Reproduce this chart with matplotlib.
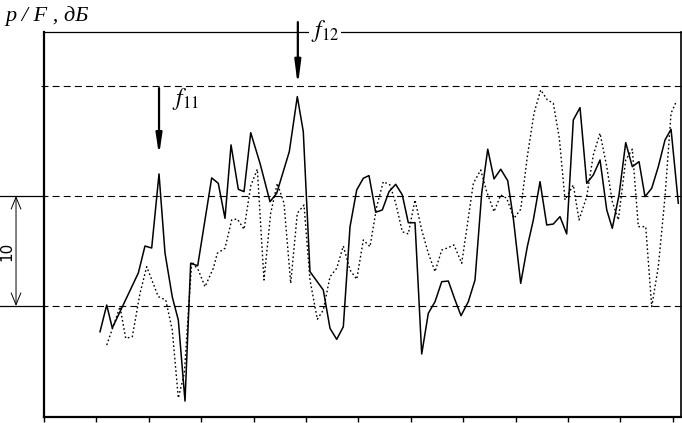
import matplotlib
matplotlib.use('Agg')
import matplotlib.pyplot as plt
import numpy as np

plt.rcParams['mathtext.fontset'] = 'stix'
plt.rcParams['lines.scale_dashes'] = False

# x in tick units (10 per tick), y in dB
solid_x = [10.69, 11.97, 13.03, 18.0, 19.27, 20.55, 21.95, 23.09, 24.48, 25.63,
           26.91, 27.99, 29.33, 32.0, 33.26, 34.54, 35.69, 37.08, 38.17, 39.45,
           41.22, 43.13, 44.41, 46.81, 48.34, 49.48, 50.76, 53.30, 54.58, 55.86,
           57.12, 58.40, 59.68, 60.94, 62.02, 63.30, 64.56, 65.84, 67.12, 68.38,
           69.52, 70.80, 72.08, 73.34, 74.62, 75.90, 77.16, 78.44, 79.58, 80.97,
           82.25, 83.53, 84.68, 85.88, 87.16, 88.49, 89.56, 90.97, 92.23, 93.38,
           94.66, 95.94, 97.19, 98.47, 99.75, 101.01, 102.29, 103.57, 104.83, 106.11,
           107.39, 108.45, 109.73, 111.01, 112.27, 113.55, 114.69, 115.97, 117.23, 118.51,
           119.66, 121.05]
solid_y = [-2.34, 0.09, -2.0, 3.0, 5.45, 5.27, 12.0, 4.82, 0.82, -1.27,
           -8.64, 3.88, 3.66, 11.64, 11.15, 7.97, 14.64, 10.61, 10.39, 15.75,
           12.97, 9.48, 10.25, 14.03, 19.03, 15.85, 3.12, 1.45, -2.03, -3.03,
           -1.88, 7.21, 10.55, 11.61, 11.85, 8.52, 8.73, 10.39, 11.06, 10.09,
           7.57, 7.57, -4.36, -0.66, 0.39, 2.21, 2.27, 0.55, -0.88, 0.39,
           2.36, 10.25, 14.25, 11.55, 12.43, 11.39, 7.97, 2.06, 5.39, 7.82,
           11.3, 7.36, 7.45, 8.12, 6.55, 16.91, 18.03, 11.15, 11.91, 13.27,
           8.73, 7.06, 10.09, 14.85, 12.66, 13.12, 9.94, 10.7, 12.66, 15.09,
           16.06, 9.34]

dotted_x = [11.97, 14.5, 15.59, 16.85, 18.32, 19.6, 21.81, 23.23, 24.48, 25.63,
            26.78, 28.19, 29.45, 30.73, 32.31, 33.07, 34.54, 35.82, 36.89, 38.17,
            39.45, 40.71, 41.98, 43.26, 44.52, 45.8, 47.08, 48.34, 49.62, 50.76,
            52.16, 53.3, 54.58, 55.86, 57.12, 58.4, 59.68, 60.94, 62.21, 63.49,
            64.75, 66.03, 67.12, 68.38, 69.52, 70.8, 72.08, 73.34, 74.62, 75.9,
            76.85, 78.24, 79.71, 80.78, 81.93, 83.34, 84.48, 85.88, 87.16, 88.30,
            89.69, 90.97, 92.23, 93.51, 94.79, 96.05, 97.19, 98.34, 99.43, 101.01,
            102.1, 103.57, 104.83, 106.11, 107.39, 108.45, 109.6, 111.01, 112.27, 113.42,
            114.83, 115.97, 117.23, 118.51, 119.66, 120.74]
dotted_y = [-3.55, -0.06, -2.94, -2.79, 1.15, 3.57, 0.85, 0.55, -2.18, -8.36,
            -6.12, 4.03, 3.27, 1.75, 3.43, 4.79, 5.25, 7.82, 7.91, 6.97,
            10.91, 12.43, 2.36, 8.43, 11.15, 9.34, 2.06, 8.43, 9.18, 2.36,
            -1.21, -0.36, 2.66, 3.43, 5.45, 3.27, 2.43, 6.0, 5.39, 9.03,
            11.3, 11.0, 9.34, 6.75, 6.55, 9.64, 6.91, 4.79, 3.12, 5.09,
            5.25, 5.55, 3.88, 7.36, 11.15, 12.36, 10.39, 8.57, 10.09, 9.79,
            7.97, 8.79, 13.57, 17.52, 19.64, 18.73, 18.43, 15.25, 9.64, 11.0,
            7.82, 9.94, 13.73, 15.7, 12.66, 9.48, 7.82, 13.27, 14.25, 7.21,
            7.21, -0.06, 3.57, 9.94, 17.52, 18.66]

grid_levels = [0, 10, 20]
xticks = np.arange(0, 121, 10)

fig = plt.figure(figsize=(6.82, 4.23), dpi=100)
ax = fig.add_axes([44/682, 1 - 416.7/423, 637/682, 384.7/423])
ax.set_xlim(0, 121.56)
ax.set_ylim(-10.06, 24.9)

for lev in grid_levels:
  ax.plot([-0.6, 121.56], [lev, lev], color='k', lw=0.8, dashes=(5, 3), clip_on=False, zorder=1)

ax.plot(solid_x, solid_y, color='k', lw=1.1, zorder=3)
ax.plot(dotted_x, dotted_y, color='k', lw=1.0, dashes=(1.2, 1.8), zorder=2)

# peak markers f11 / f12
i11 = int(np.argmax(solid_y[:10]))
i12 = int(np.argmax(solid_y[:40]))
ax.annotate('', xy=(solid_x[i11], 13.7), xytext=(solid_x[i11], 19.8),
            arrowprops=dict(arrowstyle='-|>,head_length=1.2,head_width=0.18', lw=1.6, color='k',
                            shrinkA=0, shrinkB=0), annotation_clip=False)
ax.annotate('', xy=(solid_x[i12] + 0.1, 20.0), xytext=(solid_x[i12] + 0.1, 25.8),
            arrowprops=dict(arrowstyle='-|>,head_length=1.4,head_width=0.18', lw=1.6, color='k',
                            shrinkA=0, shrinkB=0), annotation_clip=False)
ax.text(26.9, 18.8, r'$f_{11}$', fontsize=17, ha='center', va='center')
ax.text(53.6, 25.0, r'$f_{12}$', fontsize=17, ha='center', va='center', clip_on=False,
        bbox=dict(facecolor='white', edgecolor='none', pad=1.5), zorder=5)

# 10 dB scale bar on the left
for lev in grid_levels[:2]:
  ax.plot([-8.4, 0], [lev, lev], color='k', lw=0.9, clip_on=False)
ax.annotate('', xy=(-5.34, 0), xytext=(-5.34, 10),
            arrowprops=dict(arrowstyle='<->,head_length=0.85,head_width=0.35', lw=0.7, color='k',
                            shrinkA=0, shrinkB=0), annotation_clip=False)
ax.text(-7.1, 5, '10', rotation=90, fontsize=11, ha='center', va='center')

fig.text(5/682, 1 - 16/423, 'p / F , дБ', family='Liberation Serif', style='italic',
         fontsize=16, va='center', ha='left')

ax.set_xticks(xticks)
ax.set_xticklabels([])
ax.set_yticks([])
ax.tick_params(axis='x', direction='out', length=3.5, width=1.0)
ax.spines['left'].set_linewidth(1.6)
ax.spines['bottom'].set_linewidth(1.6)
ax.spines['top'].set_linewidth(0.9)
ax.spines['right'].set_linewidth(1.2)

fig.savefig('out.png', dpi=100)
